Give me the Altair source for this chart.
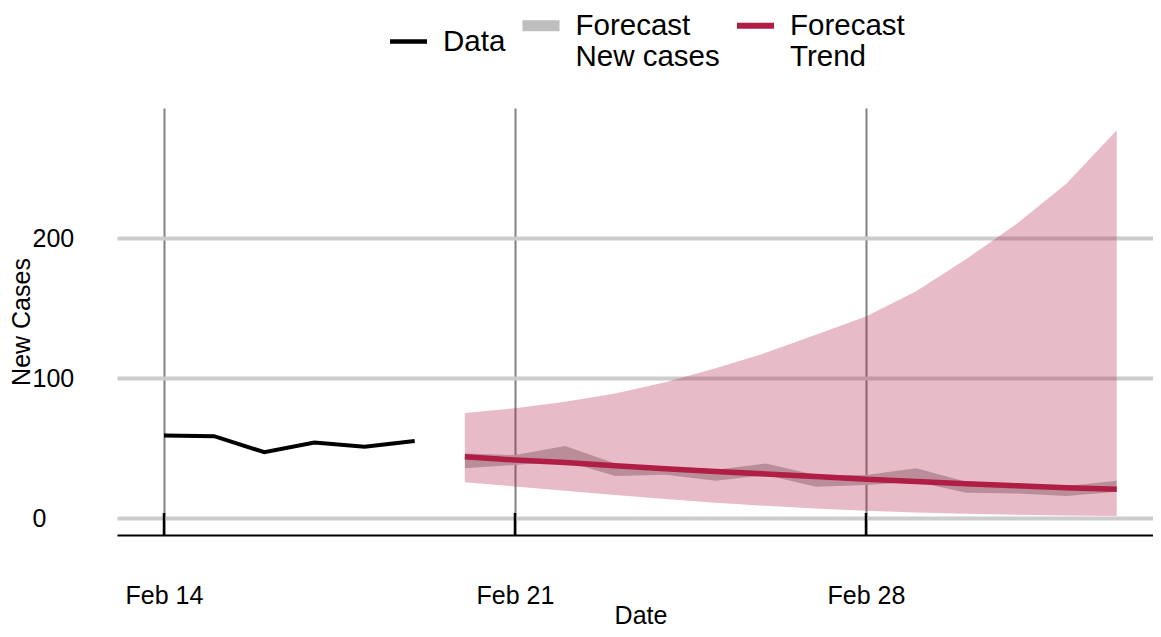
import altair as alt
import pandas as pd

# ---------------- data ----------------
obs_dates = ["2021-02-14", "2021-02-15", "2021-02-16", "2021-02-17", "2021-02-18", "2021-02-19"]
obs_values = [59, 58.5, 47, 54, 51, 55]

fc_dates = ["2021-02-20", "2021-02-21", "2021-02-22", "2021-02-23", "2021-02-24",
            "2021-02-25", "2021-02-26", "2021-02-27", "2021-02-28", "2021-03-01",
            "2021-03-02", "2021-03-03", "2021-03-04", "2021-03-05"]
trend = [43.8, 41.5, 39.6, 37.3, 35.3, 33.3, 31.5, 29.6, 27.8, 26.2, 24.5, 23.0, 21.6, 20.5]
trend_lo = [25.5, 22.6, 19.5, 16.4, 13.6, 11.0, 8.8, 6.8, 5.2, 4.0, 3.1, 2.4, 1.8, 1.4]
trend_hi = [75, 78.5, 83, 89, 97, 107, 118, 131, 144, 162, 185, 210, 239, 277]
cases_lo = [35.5, 37.9, 40.5, 30.0, 31.0, 26.6, 30.7, 22.4, 23.6, 26.0, 18.0, 17.6, 15.7, 18.8]
cases_hi = [46.2, 45.0, 51.4, 39.0, 36.5, 34.5, 39.0, 30.7, 30.7, 35.5, 26.0, 24.8, 22.9, 26.6]

series = ["Data", "Forecast\nNew cases", "Forecast\nTrend"]
colors = ["#000000", "#bebebe", "#b01e45"]
tick_dates = ["2021-02-14", "2021-02-21", "2021-02-28"]
y_ticks = [0, 100, 200]

# ---------------- tables ----------------
obs_df = pd.DataFrame({"date": obs_dates, "value": obs_values})
fc_df = pd.DataFrame({"date": fc_dates, "trend": trend, "trend_lo": trend_lo,
                      "trend_hi": trend_hi, "cases_lo": cases_lo, "cases_hi": cases_hi})
tick_df = pd.DataFrame({"date": tick_dates})
legend_df = pd.DataFrame({"series": series})

DAY = 86400000
def ms(d):
    return int(pd.Timestamp(d, tz="UTC").value // 10**6)

W, H = 1036, 427
px_per_day = 50.143
x0 = ms(obs_dates[0]) - 0.9373 * DAY
x1 = x0 + W / px_per_day * DAY

FONT = "Liberation Sans"

x_axis = alt.Axis(values=[ms(d) for d in tick_dates], format="%b %d", formatType="utc",
                  grid=True, gridColor="#808080", gridWidth=2,
                  domain=True, domainColor="black", domainWidth=2,
                  ticks=False, tickSize=0, labelFlush=False, labelOverlap=False,
                  labelPadding=68, labelBaseline="alphabetic", labelAlign="center",
                  labelFont=FONT, labelFontSize=25, labelColor="black",
                  title="Date", titleFont=FONT, titleFontSize=25, titleFontWeight="normal",
                  titleColor="black", titleX=1047 / 2, titleY=88, titleBaseline="alphabetic",
                  titleAlign="center")
y_axis = alt.Axis(values=y_ticks, grid=True, gridColor="#cccccc", gridWidth=4,
                  domain=False, ticks=False, tickSize=0,
                  labelAlign="left", labelPadding=85, labelBaseline="middle",
                  labelFont=FONT, labelFontSize=25, labelColor="black",
                  title="New Cases", titleFont=FONT, titleFontSize=25, titleFontWeight="normal",
                  titleColor="black", titleAngle=270, titleX=-88, titleY=H / 2,
                  titleBaseline="alphabetic", titleAlign="center")

x_scale = alt.Scale(type="utc", domain=[x0, x1], nice=False)
y_scale = alt.Scale(domain=[-12.1, 292.9], nice=False, zero=False)

def X():
    return alt.X("date:T", scale=x_scale, axis=x_axis)

cases_band = alt.Chart(fc_df).mark_area(color=colors[1], opacity=1).encode(
    x=X(), y=alt.Y("cases_hi:Q", scale=y_scale, axis=y_axis), y2="cases_lo:Q")

trend_band = alt.Chart(fc_df).mark_area(color=colors[2], opacity=0.3).encode(
    x=X(), y=alt.Y("trend_hi:Q", scale=y_scale, axis=y_axis), y2="trend_lo:Q")

trend_line = alt.Chart(fc_df).mark_line(color=colors[2], strokeWidth=5.5).encode(
    x=X(), y=alt.Y("trend:Q", scale=y_scale, axis=y_axis))

obs_line = alt.Chart(obs_df).mark_line(color=colors[0], strokeWidth=4).encode(
    x=X(), y=alt.Y("value:Q", scale=y_scale, axis=y_axis))

ticks = alt.Chart(tick_df).mark_rule(color="black", strokeWidth=2.5).encode(
    x=X(), y=alt.value(405), y2=alt.value(427))

shapes = ["M-1,-0.125L1,-0.125L1,0.125L-1,0.125Z",
          "M-1,-0.3L1,-0.3L1,0.3L-1,0.3Z",
          "M-1,-0.16L1,-0.16L1,0.16L-1,0.16Z"]

leg = alt.Legend(orient="none", legendX=273, legendY=-101, direction="horizontal",
                 title=None, labelExpr="split(datum.label, '\\n')",
                 labelFont=FONT, labelFontSize=29.5, labelColor="black", labelLimit=400,
                 symbolSize=1369, symbolStrokeWidth=0, symbolOpacity=1,
                 labelOffset=16, columnPadding=16.5, padding=0)

legend_layer = alt.Chart(legend_df).transform_filter("false").mark_point(
    filled=True, opacity=1).encode(
    color=alt.Color("series:N", scale=alt.Scale(domain=series, range=colors), legend=leg),
    shape=alt.Shape("series:N", scale=alt.Scale(domain=series, range=shapes), legend=leg))

chart = alt.layer(cases_band, trend_band, trend_line, obs_line, ticks, legend_layer).properties(
    width=W, height=H,
    autosize=alt.AutoSizeParams(type="none"),
    padding={"left": 109, "top": 100, "right": 0, "bottom": 94},
    background="white",
).configure_view(stroke=None)

chart.save("out.html", embed_options={"renderer": "svg", "actions": False})
